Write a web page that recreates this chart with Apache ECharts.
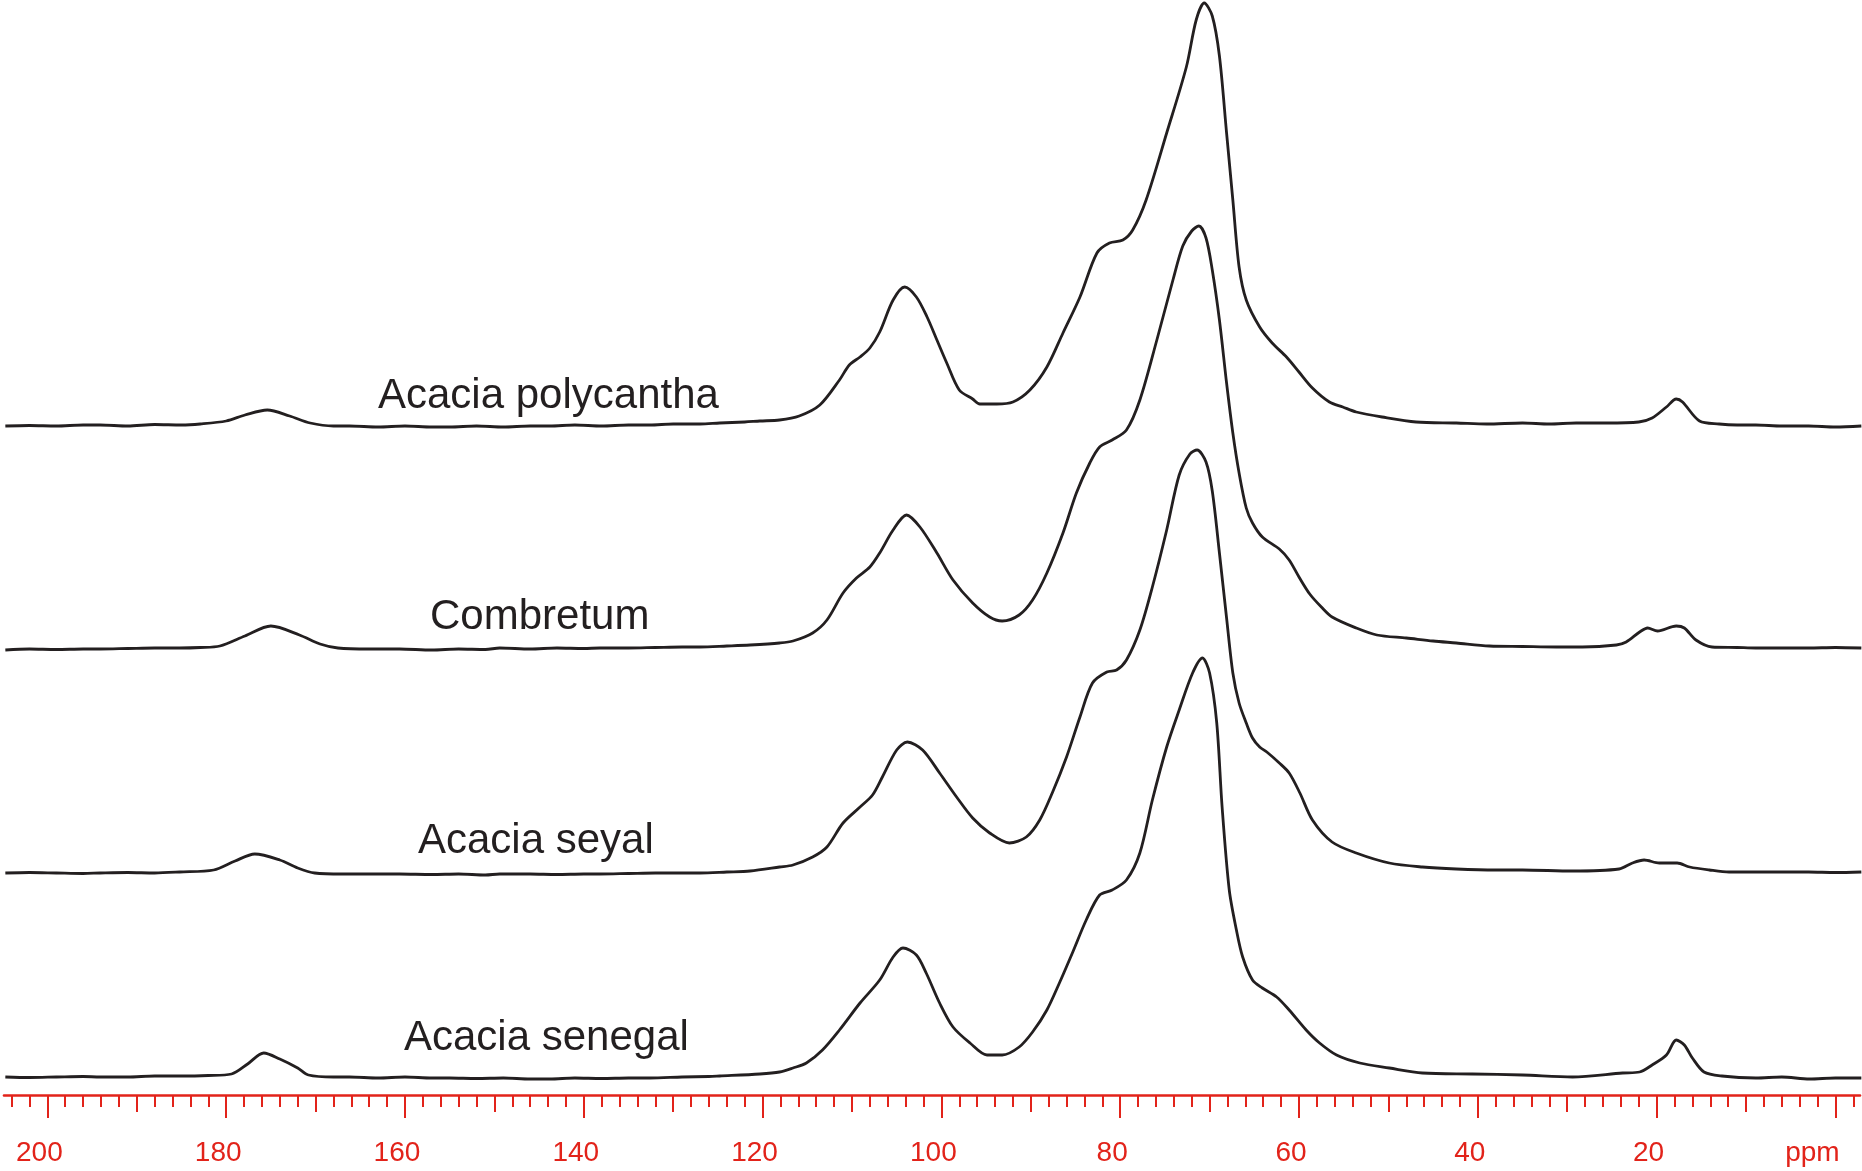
<!DOCTYPE html>
<html>

<head>
	<meta charset="utf-8">
	<title>13C CP-MAS spectra</title>
	<script src="https://cdn.jsdelivr.net/npm/echarts@6.0.0/dist/echarts.min.js"></script>
	<style>
		html, body {
			margin: 0;
			padding: 0;
			background-color: #fff;
		}
		#chart {
			width: 1862px;
			height: 1171px;
		}
	</style>
</head>

<body>
<div id="chart"></div>
<script>
	// sample names, top to bottom
	var samples = ['Acacia polycantha', 'Combretum', 'Acacia seyal', 'Acacia senegal'];
	// vertical stacking offset of each spectrum (same units as intensity)
	var offsets = [669, 447, 222, 17];

	// [ppm, intensity above the spectrum's own baseline]
	var polycantha = [
		[204.7, 0], [202, 0.5], [199, 0], [196, 1], [194.1, 1], [191, 0], [188, 1.5], [185, 1], [182.9, 2],
		[180.0, 5], [177.9, 11], [175.4, 16], [172.9, 10], [170.6, 3], [168, 0], [166.2, 0], [163, -1], [160, 0],
		[157, -1], [155, -1], [152, 0], [149, -1], [146, 0], [143.8, 0], [141, 1], [138, 0], [135, 1], [132.6, 1],
		[130, 2], [127, 2], [124.8, 3], [122, 4], [120.3, 5], [118.1, 6], [115.9, 10], [113.6, 21], [111.4, 46],
		[110.3, 61], [109.1, 69], [108.0, 78], [106.9, 94], [105.4, 126], [104.1, 139], [102.8, 129], [101.6, 109],
		[100.5, 86], [99.4, 63], [98.0, 36], [96.5, 27], [95.7, 22], [93.8, 22], [92.0, 24], [90.1, 36], [88.2, 59],
		[86.4, 93], [84.5, 129], [82.6, 173], [81.2, 183], [79.7, 186], [78.6, 196], [77.1, 226], [74.8, 293],
		[72.6, 359], [71.5, 406], [70.6, 423], [69.7, 410], [68.9, 370], [68.1, 293], [67.4, 226], [66.7, 159],
		[65.9, 126], [64.4, 99], [63.0, 83], [61.4, 69], [60.0, 54], [58.5, 38], [56.6, 24], [55.1, 19], [53.6, 14],
		[50.7, 9], [46.9, 4], [42.4, 3], [39, 2], [35.0, 3], [32, 2], [29, 3], [25.6, 3], [22.0, 4], [20.5, 8],
		[18.9, 19], [17.8, 27], [17.1, 24], [15.2, 5], [13.0, 2], [11, 1], [8.9, 1], [6, 0], [3.0, 0], [0, -1], [-2.9, 0]
	];
	var combretum = [
		[204.7, -2], [202, -1], [199, -1.5], [196, -1], [194.1, -1], [191, -0.5], [188, 0], [185.2, 0], [182.9, 0.5],
		[180.7, 2], [177.9, 12], [175.0, 22], [171.8, 13], [169.5, 4], [167.5, 0], [164, -1], [160.6, -1], [157, -2],
		[154, -1], [151, -1.5], [149.4, 0], [146, -1], [143, 0], [140, -0.5], [138.2, 0], [135, 0], [132, 0.5],
		[129, 1], [127.0, 1], [124, 2], [121.4, 3], [118.1, 5], [116.6, 7], [114.4, 15], [112.8, 28], [111.0, 55],
		[109.5, 70], [108.0, 81], [106.9, 95], [105.4, 118], [103.9, 133], [102.4, 121], [100.5, 95], [98.7, 68],
		[96.5, 45], [94.6, 31], [93.2, 27], [91.3, 33], [89.8, 48], [88.2, 75], [86.4, 115], [84.9, 155], [83.4, 185],
		[82.3, 201], [80.9, 208], [79.3, 218], [77.8, 248], [75.9, 308], [74.1, 368], [73.0, 402], [72.0, 417],
		[71.2, 422], [70.4, 410], [69.7, 378], [68.9, 328], [68.1, 265], [67.4, 215], [66.7, 175], [65.9, 140],
		[65.2, 125], [64.1, 111], [62.2, 99], [61.1, 88], [60.0, 71], [58.8, 54], [57.5, 41], [56.3, 31], [53.6, 20],
		[51.3, 13], [48.0, 10], [45, 7], [42.4, 5], [38.7, 2], [35, 1.5], [31.2, 1], [28.3, 1], [24.5, 3], [23.4, 6],
		[21.9, 16], [21.0, 20], [19.9, 17], [17.8, 22], [16.9, 20], [15.6, 8], [13.8, 1], [11, 0.5], [8.9, 0], [6, 0],
		[3.0, 0], [0, 0.5], [-2.9, 0]
	];
	var seyal = [
		[204.7, 0], [202, 0.5], [199, 0], [196, -0.5], [194.1, 0], [191, 0.5], [188, 0], [185.2, 1], [181.4, 3],
		[179.0, 12], [176.8, 19], [174.0, 13], [172, 5], [170.1, 0], [167, -1], [164, -1], [160.6, -1], [157, -1.5],
		[154, -1], [151, -2], [149.4, -1], [146, -1], [143, -1.5], [140, -1], [138.2, -1], [135, -0.5], [132, 0],
		[129, 0], [127.0, 0], [124, 1], [121.4, 2], [118.1, 6], [116.6, 8], [114.4, 16], [112.8, 26], [111.0, 50],
		[109.1, 66], [107.7, 78], [106.6, 96], [105.0, 123], [103.8, 131], [102.1, 123], [100.2, 100], [98.3, 76],
		[96.5, 55], [94.6, 40], [92.4, 30], [90.5, 36], [89.0, 53], [87.6, 80], [86.0, 116], [84.5, 156], [83.1, 190],
		[81.5, 201], [80.4, 203], [79.3, 213], [77.8, 243], [76.4, 286], [74.8, 343], [73.4, 398], [72.2, 419],
		[71.4, 423], [70.4, 411], [69.7, 382], [68.9, 320], [68.1, 255], [67.4, 200], [66.7, 170], [65.9, 150],
		[65.2, 135], [64.4, 126], [63.6, 121], [62.2, 110], [61.1, 100], [59.9, 80], [58.5, 53], [56.3, 31], [53.6, 20],
		[49.9, 10], [46.2, 6], [42.4, 4], [38, 3], [35.0, 3], [29.4, 2], [24.2, 4], [22.7, 10], [21.4, 13], [19.7, 10],
		[17.7, 10], [16.3, 6], [14.1, 3], [11.9, 1], [8, 1], [3.0, 1], [0, 0.5], [-2.9, 1]
	];
	var senegal = [
		[204.7, 1], [202, 0.5], [199, 1], [196, 1.5], [194.1, 1], [191, 1], [188, 2], [185.2, 2], [182, 2.5],
		[179.4, 4], [177.6, 14], [175.8, 25], [174.0, 19], [172, 10], [170.8, 3], [168, 1], [166.2, 1], [163, 0],
		[160, 1], [157, 0], [155.0, 0], [152, -0.5], [149, 0], [146, -1], [143.8, -1], [141, 0], [138, -0.5], [135, 0],
		[132.6, 0], [129, 1], [126, 1.5], [124.8, 2], [120.3, 4], [118.1, 6], [116.6, 10], [115.1, 15], [113.3, 28],
		[111.4, 48], [109.1, 75], [106.9, 98], [105.4, 121], [104.3, 130], [102.8, 123], [101.7, 105], [100.2, 75],
		[98.7, 51], [96.8, 35], [94.9, 23], [93.2, 23], [91.3, 31], [89.8, 46], [88.2, 68], [86.8, 95], [85.3, 126],
		[83.8, 158], [82.3, 183], [80.9, 188], [79.3, 198], [77.8, 225], [76.4, 278], [74.8, 331], [73.4, 368],
		[71.9, 405], [70.8, 420], [70.0, 405], [69.2, 355], [68.6, 271], [67.8, 188], [67.0, 148], [66.3, 121],
		[65.2, 98], [64.1, 90], [62.5, 81], [61.1, 68], [59.2, 48], [57.7, 35], [55.8, 23], [53.2, 15], [49.9, 10],
		[46.2, 5], [40.6, 4], [35.0, 3], [29.4, 1], [23.8, 5], [21.9, 6], [20.5, 13], [18.9, 23], [17.8, 38], [16.9, 33],
		[16.0, 20], [14.7, 6], [12.7, 2], [8.9, 0], [6, 1], [2.9, -1], [0, 0], [-2.9, 0]
	];

	// ppm scale ticks
	var labelTicks = [200, 180, 160, 140, 120, 100, 80, 60, 40, 20, 0];
	var tenTicks = [200, 190, 180, 170, 160, 150, 140, 130, 120, 110, 100, 90, 80, 70, 60, 50, 40, 30, 20, 10, 0];
	var twoTicks = [];
	for (var t = -2; t <= 204; t += 2) {
		twoTicks.push(t);
	}

	var red = '#e2231a';
	var ink = '#231f20';
	var font = 'Arial, "Liberation Sans", Helvetica, sans-serif';
	var spectra = [polycantha, combretum, seyal, senegal];

	function ppmAxis(ticks, len, withLine, withLabels) {
		return {
			type: 'value',
			min: -2.75,
			max: 204.85,
			inverse: true,
			position: 'bottom',
			axisLine: {show: withLine, onZero: false, lineStyle: {color: red, width: 2.6}},
			axisTick: {show: true, inside: false, length: len, customValues: ticks, lineStyle: {color: red, width: 2}},
			axisLabel: withLabels ? {
				show: true,
				customValues: labelTicks,
				margin: 44,
				fontSize: 28,
				fontFamily: font,
				color: red,
				padding: [0, 16, 0, 0],
				formatter: function (v) {
					return v === 0 ? '{u|ppm}' : String(v);
				},
				rich: {
					u: {fontSize: 28, fontFamily: font, color: red, padding: [0, 30, 0, 0]}
				}
			} : {show: false},
			splitLine: {show: false}
		};
	}

	var series = spectra.map(function (points, i) {
		return {
			name: samples[i],
			type: 'line',
			xAxisIndex: 0,
			showSymbol: false,
			symbol: 'none',
			smooth: 0.3,
			lineStyle: {color: ink, width: 2.8, join: 'round'},
			data: points.map(function (p) {
				return [p[0], p[1] + offsets[i]];
			})
		};
	});

	// sample names drawn next to each trace
	var nameY = [396, 617, 841, 1038];
	var nameX = [378, 430, 418, 404];
	var names = samples.map(function (s, i) {
		return {
			type: 'text',
			x: nameX[i],
			y: nameY[i],
			style: {text: s, font: '42px ' + font, fill: ink, align: 'left', verticalAlign: 'middle'}
		};
	});

	var chart = echarts.init(document.getElementById('chart'));
	chart.setOption({
		animation: false,
		backgroundColor: '#fff',
		grid: {left: 4, right: 2, top: 0, bottom: 76, containLabel: false, outerBoundsMode: 'none'},
		xAxis: [
			ppmAxis(twoTicks, 12, true, false),
			ppmAxis(tenTicks, 17, false, false),
			ppmAxis(labelTicks, 23, false, true)
		],
		yAxis: {type: 'value', min: 0, max: 1095, show: false, splitLine: {show: false}},
		series: series,
		graphic: names
	});
</script>
</body>

</html>
